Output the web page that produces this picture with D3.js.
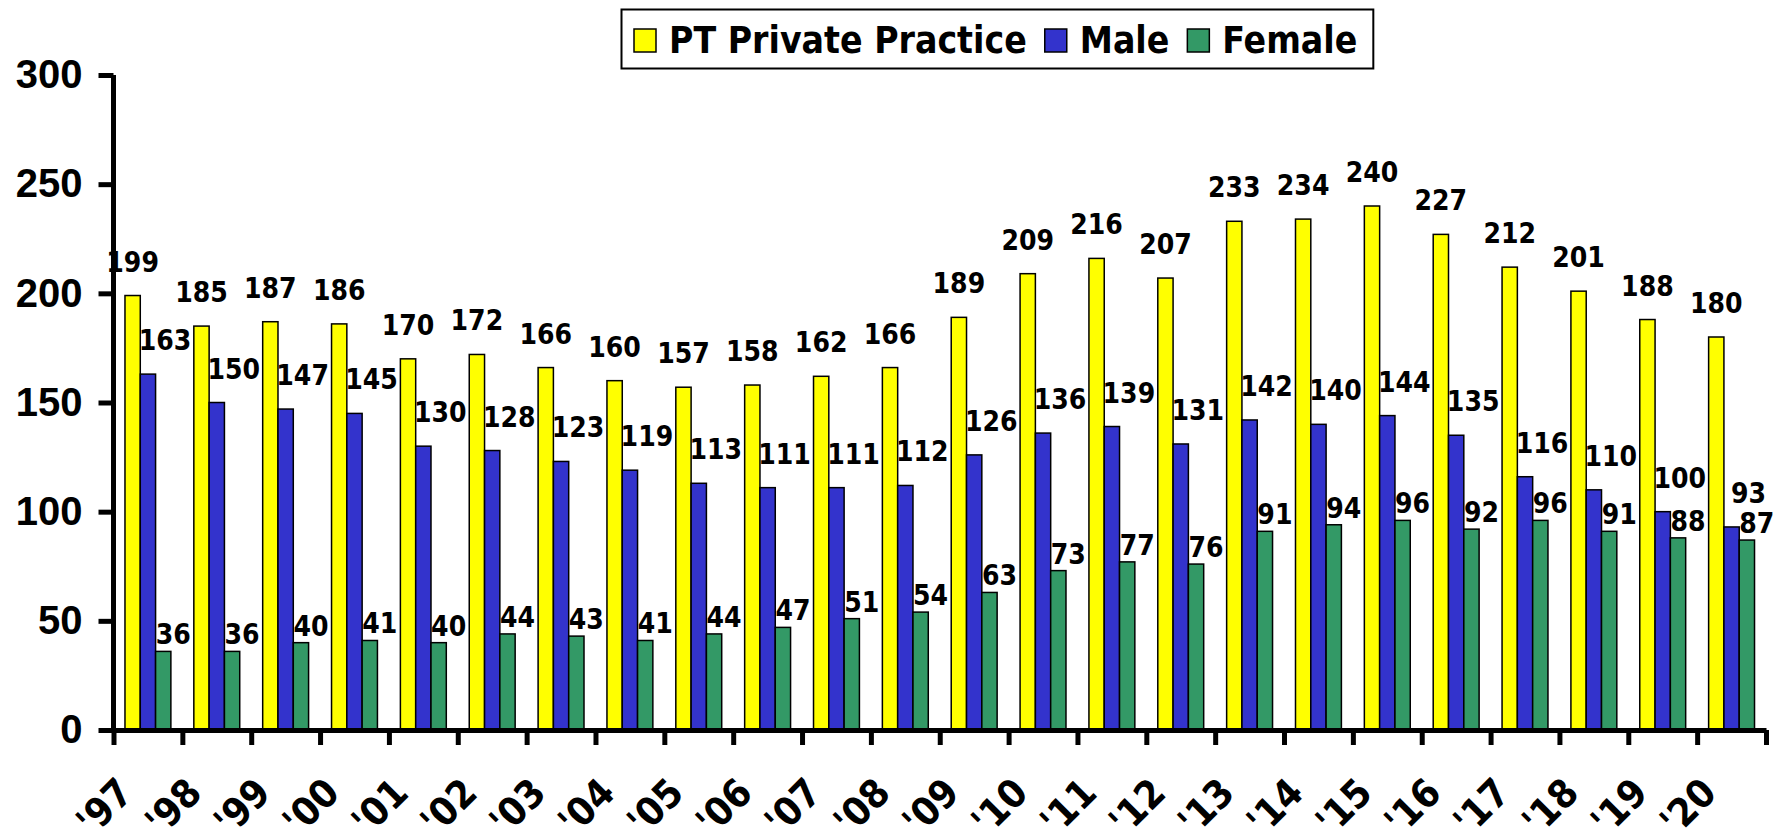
<!DOCTYPE html>
<html>
<head>
<meta charset="utf-8">
<script src="https://cdn.jsdelivr.net/npm/d3@7"></script>
<style>
    html, body { margin: 0; padding: 0; background: #fff; }
    svg { display: block; font-family: "DejaVu Sans Condensed", "DejaVu Sans", sans-serif; font-stretch: condensed; font-weight: bold; }
</style>
</head>
<body>
<div id="chart"></div>
<script>
// chart data
const years = ["'97", "'98", "'99", "'00", "'01", "'02", "'03", "'04", "'05", "'06", "'07", "'08",
    "'09", "'10", "'11", "'12", "'13", "'14", "'15", "'16", "'17", "'18", "'19", "'20"];
const seriesNames = ['PT Private Practice', 'Male', 'Female'];
const practice = [199, 185, 187, 186, 170, 172, 166, 160, 157, 158, 162, 166,
    189, 209, 216, 207, 233, 234, 240, 227, 212, 201, 188, 180];
const male = [163, 150, 147, 145, 130, 128, 123, 119, 113, 111, 111, 112,
    126, 136, 139, 131, 142, 140, 144, 135, 116, 110, 100, 93];
const female = [36, 36, 40, 41, 40, 44, 43, 41, 44, 47, 51, 54,
    63, 73, 77, 76, 91, 94, 96, 92, 96, 91, 88, 87];
const yTicks = [0, 50, 100, 150, 200, 250, 300];

const colors = ['#FFFF00', '#3333CC', '#339966'];
const values = [practice, male, female];

const width = 1777;
const height = 830;

const svg = d3.select('#chart')
    .append('svg')
    .attr('width', width)
    .attr('height', height);

const x = d3.scaleBand().domain(years).range([113.5, 1766]).paddingInner(0).paddingOuter(0);
const xSub = d3.scaleBand().domain(seriesNames).range([0, x.bandwidth()]).paddingInner(0).paddingOuter(0.75);
const y = d3.scaleLinear().domain([0, 300]).range([730, 75]);

// flatten into one row per bar
const rows = [];
years.forEach((yr, i) => {
    seriesNames.forEach((s, k) => {
        rows.push({ year: yr, series: s, k: k, value: values[k][i] });
    });
});

// bars
svg.append('g')
    .selectAll('rect')
    .data(rows)
    .enter()
    .append('rect')
    .attr('x', (d) => x(d.year) + xSub(d.series))
    .attr('y', (d) => y(d.value))
    .attr('width', xSub.bandwidth())
    .attr('height', (d) => y(0) - y(d.value))
    .attr('fill', (d) => colors[d.k])
    .attr('stroke', '#000')
    .attr('stroke-width', 1.5);

// y axis
const yAxis = svg.append('g')
    .attr('transform', `translate(${x.range()[0]},0)`)
    .call(d3.axisLeft(y).tickValues(yTicks).tickSize(15).tickSizeOuter(0).tickPadding(16));
yAxis.select('.domain').attr('stroke-width', 5).attr('d', `M0,${y(300)}V${y(0) + 2}`);
yAxis.selectAll('.tick line').attr('stroke-width', 5);
yAxis.selectAll('.tick text')
    .attr('font-size', 40)
    .attr('font-family', null)
    .attr('fill', '#000');

// x axis: ticks sit on category boundaries, labels drawn rotated below
const xIdx = d3.scaleLinear().domain([0, years.length]).range(x.range());
const xAxis = svg.append('g')
    .attr('transform', `translate(0,${y(0)})`)
    .call(d3.axisBottom(xIdx).tickValues(d3.range(years.length + 1)).tickSize(15).tickSizeOuter(0).tickFormat(''));
xAxis.select('.domain').attr('stroke-width', 5);
xAxis.selectAll('.tick line').attr('stroke-width', 5);

svg.append('g')
    .selectAll('text')
    .data(years)
    .enter()
    .append('text')
    .attr('transform', (d) => `translate(${x(d) + x.bandwidth() / 2 - 13},795) rotate(-45)`)
    .attr('text-anchor', 'end')
    .attr('font-size', 39)
    .text((d) => d);

// data labels
const labelShift = [0, 17, 10];
const labelLift = [24, 24, 7];
svg.append('g')
    .selectAll('text')
    .data(rows)
    .enter()
    .append('text')
    .attr('x', (d) => x(d.year) + xSub(d.series) + xSub.bandwidth() / 2 + labelShift[d.k])
    .attr('y', (d) => y(d.value) - labelLift[d.k])
    .attr('text-anchor', 'middle')
    .attr('font-size', 28)
    .text((d) => d.value);

// legend
const legend = svg.append('g');
const legendBox = legend.append('rect')
    .attr('x', 621.5)
    .attr('y', 9.5)
    .attr('height', 59)
    .attr('fill', '#fff')
    .attr('stroke', '#000')
    .attr('stroke-width', 2);

let lx = 634;
seriesNames.forEach((s, k) => {
    legend.append('rect')
        .attr('x', lx)
        .attr('y', 29)
        .attr('width', 22)
        .attr('height', 23)
        .attr('fill', colors[k])
        .attr('stroke', '#000')
        .attr('stroke-width', 1.5);
    const t = legend.append('text')
        .attr('x', lx + 35)
        .attr('y', 53)
        .attr('font-size', 37)
        .text(s);
    lx += 35 + t.node().getComputedTextLength() + 18;
});
legendBox.attr('width', lx - 2 - 621.5);
</script>
</body>
</html>
